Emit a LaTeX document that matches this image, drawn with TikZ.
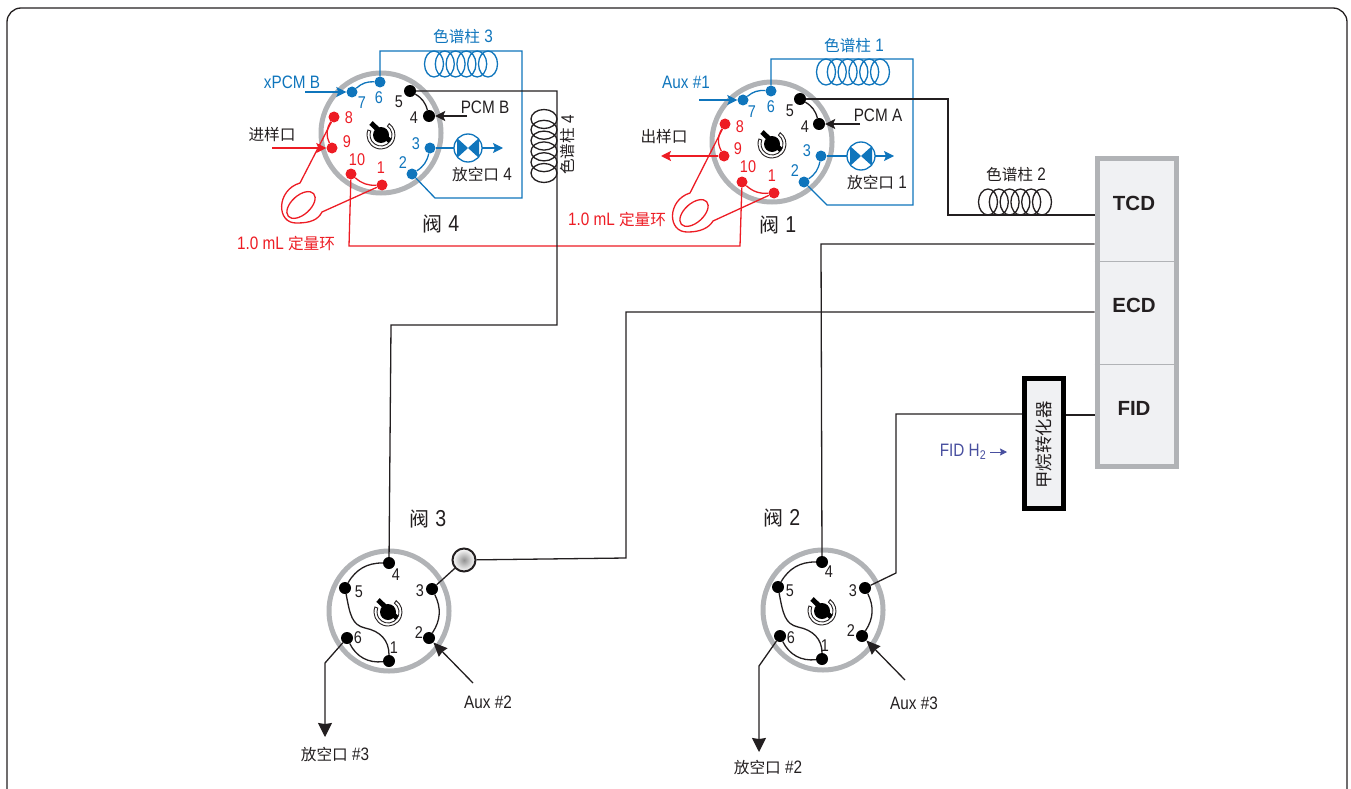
\documentclass[tikz,border=0pt]{standalone}
\usepackage{fontspec}
\setmainfont[FakeStretch=0.85]{Liberation Sans}
\newfontfamily\detfont{Liberation Sans}
\newfontfamily\cjfont[Scale=0.87]{Noto Sans CJK SC}
\usetikzlibrary{arrows.meta}
\newcommand{\cj}[1]{{\cjfont #1}}
\definecolor{vblue}{HTML}{0F75BC}
\definecolor{vred}{HTML}{ED1C24}
\definecolor{vgray}{HTML}{B1B3B6}
\definecolor{vpanel}{HTML}{F0F1F3}
\definecolor{vindigo}{HTML}{484F9F}
\definecolor{vblack}{HTML}{231F20}
\tikzset{
	ring/.style={circle, draw=vgray, line width=5pt, minimum size=120pt, inner sep=0pt},
	port/.style={circle, minimum size=11pt, inner sep=0pt},
	blueport/.style={port, fill=vblue},
	redport/.style={port, fill=vred},
	blackport/.style={port, fill=black, minimum size=12pt},
	bluewire/.style={draw=vblue, line width=1.3pt},
	redwire/.style={draw=vred, line width=1.3pt},
	blackwire/.style={draw=vblack, line width=1.3pt},
	smalltip/.style={-{Stealth[length=10pt, width=10pt, inset=2pt]}},
	auxtip/.style={-{Stealth[length=14pt, width=12pt, inset=1pt]}},
	bigtip/.style={-{Stealth[length=14pt, width=14pt, inset=1pt]}},
	lbl/.style={inner sep=0pt, text=vblack, font=\fontsize{18}{20}\selectfont},
	num/.style={inner sep=0pt, text=vblack, font=\fontsize{17}{19}\selectfont},
	bluelbl/.style={lbl, text=vblue},
	redlbl/.style={lbl, text=vred},
	bluenum/.style={num, text=vblue},
	rednum/.style={num, text=vred},
	valvelbl/.style={lbl, font=\fontsize{23}{25}\selectfont},
	detlbl/.style={inner sep=0pt, text=vblack, font=\detfont\bfseries\fontsize{20.5}{22}\selectfont},
	coil/.pic={
		\draw[pic actions] (0,0) circle [x radius=9.5pt, y radius=13pt]
		(10.8,0) circle [x radius=9.5pt, y radius=13pt]
		(21.6,0) circle [x radius=9.5pt, y radius=13pt]
		(32.4,0) circle [x radius=9.5pt, y radius=13pt]
		(43.2,0) circle [x radius=9.5pt, y radius=13pt]
		(54,0) circle [x radius=9.5pt, y radius=13pt];
	},
	dial/.pic={
		\draw[vblack, line width=0.9pt, y=1pt] (159:14) arc [start angle=159, end angle=414, radius=14pt]
		-- (54:11) arc [start angle=414, end angle=159, radius=11pt] -- cycle;
		\fill[black, y=1pt] (0,0) circle [radius=8pt];
		\draw[black, line width=5pt, y=1pt] (-10,12) -- (9,-6);
	},
	vent/.pic={
		\draw[vblue, line width=1.3pt, fill=white] (0,0) circle [radius=14pt];
		\fill[vblue] (0,0) -- (-11,-10) -- (-11,10) -- cycle;
		\fill[vblue] (0,0) -- (11,-10) -- (11,10) -- cycle;
	}
}

\begin{document}
\begin{tikzpicture}[x=1pt, y=-1pt]
	\useasboundingbox (0,0) rectangle (1351,789);
	\draw[vblack, line width=1.3pt, rounded corners=14pt]
	(7,789) -- (7,8) -- (1347,8) -- (1347,789);

	% valve 4
	\node[ring] (v4) at (381,133) {};
	\pic at (381,135) {dial};
	\node[blueport] (v4p6) at (380,82) {};
	\node[blueport] (v4p7) at (352,92) {};
	\node[blackport] (v4p5) at (410,91) {};
	\node[blackport] (v4p4) at (429,116) {};
	\node[blueport] (v4p3) at (430,148) {};
	\node[blueport] (v4p2) at (412,174) {};
	\node[redport] (v4p1) at (382,185) {};
	\node[redport] (v4p10) at (351,174) {};
	\node[redport] (v4p9) at (332,148) {};
	\node[redport] (v4p8) at (334,117) {};
	\node[bluenum] (n47) at (362,103) {7};
	\node[bluenum] (n46) at (379,98) {6};
	\node[num] (n45) at (399,102) {5};
	\node[num] (n44) at (414,118) {4};
	\node[bluenum] (n43) at (416,144) {3};
	\node[bluenum] (n42) at (403,163) {2};
	\node[rednum] (n41) at (381,168) {1};
	\node[rednum] (n410) at (357,160) {10};
	\node[rednum] (n49) at (347,142) {9};
	\node[rednum] (n48) at (349,118) {8};
	\draw[bluewire] (v4p6) to[bend right=22] (v4p7);
	\draw[bluewire] (v4p3) to[bend left=22] (v4p2);
	\draw[blackwire] (v4p5) to[bend left=22] (v4p4);
	\draw[redwire] (v4p8) to[bend right=30] (v4p9);
	\draw[redwire] (v4p10) to[bend right=22] (v4p1);
	\draw[redwire] (v4p8) -- (300,183) .. controls (276,190) and (276,224) .. (297,223)
	.. controls (310,223) and (318,220) .. (322,212) -- (v4p1);
	\draw[redwire, shift={(301,205)}, rotate=42] (0,0) circle [x radius=17pt, y radius=9.5pt];
	\coordinate (v4in) at (272,148);
	\draw[redwire, smalltip] (v4in) -- (v4p9);
	\coordinate (v4aux) at (305,92);
	\draw[bluewire, smalltip] (v4aux) -- (v4p7);
	\coordinate (v4pcm) at (467,116);
	\draw[blackwire, smalltip] (v4pcm) -- (v4p4);
	\coordinate (v4out) at (503,148);
	\draw[bluewire, smalltip] (v4p3) -- (v4out);
	\pic at (468,148) {vent};
	\draw[bluewire] (v4p6) -- (380,51) -- (522,51) -- (522,198) -- (435,198) -- (v4p2);
	\pic[bluewire] (col3) at (434,64) {coil};
	\node[bluelbl] (lbcol3) at (463,37) {\cj{色谱柱} 3};
	\node[bluelbl] (lbxpcm) at (292,82) {xPCM B};
	\node[lbl] (lbpcmb) at (485,107) {PCM B};
	\node[lbl] (lbin) at (272,135) {\cj{进样口}};
	\node[lbl] (lbvent4) at (482,175) {\cj{放空口} 4};
	\node[valvelbl] (lbv4) at (441,224) {\cj{阀} 4};
	\node[redlbl] (lbloop4) at (286,244) {1.0 mL \cj{定量环}};

	% valve 1
	\node[ring] (v1) at (772,142) {};
	\pic at (772,144) {dial};
	\node[blueport] (v1p6) at (771,91) {};
	\node[blueport] (v1p7) at (743,100) {};
	\node[blackport] (v1p5) at (800,99) {};
	\node[blackport] (v1p4) at (819,124) {};
	\node[blueport] (v1p3) at (821,156) {};
	\node[blueport] (v1p2) at (804,182) {};
	\node[redport] (v1p1) at (774,193) {};
	\node[redport] (v1p10) at (742,182) {};
	\node[redport] (v1p9) at (724,156) {};
	\node[redport] (v1p8) at (725,124) {};
	\node[bluenum] (n17) at (752,112) {7};
	\node[bluenum] (n16) at (771,107) {6};
	\node[num] (n15) at (790,111) {5};
	\node[num] (n14) at (805,127) {4};
	\node[bluenum] (n13) at (807,151) {3};
	\node[bluenum] (n12) at (795,171) {2};
	\node[rednum] (n11) at (772,176) {1};
	\node[rednum] (n110) at (748,167) {10};
	\node[rednum] (n19) at (738,149) {9};
	\node[rednum] (n18) at (740,127) {8};
	\draw[bluewire] (v1p6) to[bend right=22] (v1p7);
	\draw[bluewire] (v1p3) to[bend left=22] (v1p2);
	\draw[blackwire] (v1p5) to[bend left=22] (v1p4);
	\draw[redwire] (v1p8) to[bend right=30] (v1p9);
	\draw[redwire] (v1p10) to[bend right=22] (v1p1);
	\draw[redwire] (v1p8) -- (690,193) .. controls (667,200) and (667,233) .. (688,232)
	.. controls (700,232) and (709,228) .. (713,221) -- (v1p1);
	\draw[redwire, shift={(694,213)}, rotate=42] (0,0) circle [x radius=17pt, y radius=9.5pt];
	\coordinate (v1tap) at (661,156);
	\draw[redwire, smalltip] (v1p9) -- (v1tap);
	\coordinate (v1aux) at (699,100);
	\draw[bluewire, smalltip] (v1aux) -- (v1p7);
	\coordinate (v1pcm) at (860,124);
	\draw[blackwire, smalltip] (v1pcm) -- (v1p4);
	\coordinate (v1out) at (894,156);
	\draw[bluewire, smalltip] (v1p3) -- (v1out);
	\pic at (861,156) {vent};
	\draw[bluewire] (v1p6) -- (771,59) -- (913,59) -- (913,205) -- (827,205) -- (v1p2);
	\pic[bluewire] (col1) at (826,72) {coil};
	\node[bluelbl] (lbcol1) at (854,46) {\cj{色谱柱} 1};
	\node[bluelbl] (lbaux1) at (686,82) {Aux \#1};
	\node[lbl] (lbpcma) at (878,115) {PCM A};
	\node[lbl] (lbtap) at (664,137) {\cj{出样口}};
	\node[lbl] (lbvent1) at (877,183) {\cj{放空口} 1};
	\node[valvelbl] (lbv1) at (778,225) {\cj{阀} 1};
	\node[redlbl] (lbloop1) at (617,220) {1.0 mL \cj{定量环}};

	% valve 3
	\node[ring] (v3) at (389,611) {};
	\pic at (388,612) {dial};
	\node[blackport] (v3p4) at (389,563) {};
	\node[blackport] (v3p5) at (345,588) {};
	\node[blackport] (v3p6) at (347,638) {};
	\node[blackport] (v3p1) at (389,661) {};
	\node[blackport] (v3p2) at (429,638) {};
	\node[blackport] (v3p3) at (432,589) {};
	\node[num] (n34) at (396,575) {4};
	\node[num] (n35) at (359,592) {5};
	\node[num] (n36) at (358,638) {6};
	\node[num] (n31) at (394,648) {1};
	\node[num] (n32) at (419,633) {2};
	\node[num] (n33) at (420,591) {3};
	\draw[blackwire] (v3p4) to[bend right=30] (v3p5);
	\draw[blackwire] (v3p3) to[bend left=30] (v3p2);
	\draw[blackwire] (v3p6) to[bend right=35] (v3p1);
	\draw[blackwire] (v3p5) .. controls (350,615) and (352,625) .. (365,628)
	.. controls (380,631) and (389,640) .. (v3p1);
	\node[circle, draw=vblack, line width=2pt, minimum size=23pt, inner sep=0pt,
	inner color=gray!85, outer color=white] (v3gauge) at (464,560) {};
	\draw[blackwire] (v3p3) -- (v3gauge);
	\coordinate (v3vent) at (325,737);
	\draw[blackwire, bigtip] (v3p6) -- (325,663) -- (v3vent);
	\coordinate (v3aux) at (473,683);
	\draw[blackwire, auxtip] (v3aux) -- (v3p2);
	\node[lbl] (lbaux2) at (488,702) {Aux \#2};
	\node[lbl] (lbvent3) at (335,755) {\cj{放空口} \#3};
	\node[valvelbl] (lbv3) at (428,519) {\cj{阀} 3};

	% valve 2
	\node[ring] (v2) at (823,610) {};
	\pic at (822,611) {dial};
	\node[blackport] (v2p4) at (822,562) {};
	\node[blackport] (v2p5) at (778,587) {};
	\node[blackport] (v2p6) at (780,636) {};
	\node[blackport] (v2p1) at (822,659) {};
	\node[blackport] (v2p2) at (862,636) {};
	\node[blackport] (v2p3) at (865,588) {};
	\node[num] (n24) at (829,572) {4};
	\node[num] (n25) at (790,591) {5};
	\node[num] (n26) at (791,638) {6};
	\node[num] (n21) at (825,646) {1};
	\node[num] (n22) at (851,631) {2};
	\node[num] (n23) at (853,591) {3};
	\draw[blackwire] (v2p4) to[bend right=30] (v2p5);
	\draw[blackwire] (v2p3) to[bend left=30] (v2p2);
	\draw[blackwire] (v2p6) to[bend right=35] (v2p1);
	\draw[blackwire] (v2p5) .. controls (783,614) and (785,624) .. (798,627)
	.. controls (813,630) and (822,639) .. (v2p1);
	\coordinate (v2vent) at (759,752);
	\draw[blackwire, bigtip] (v2p6) -- (759,666) -- (v2vent);
	\coordinate (v2aux) at (905,680);
	\draw[blackwire, auxtip] (v2aux) -- (v2p2);
	\node[lbl] (lbaux3) at (914,703) {Aux \#3};
	\node[lbl] (lbvent2) at (768,768) {\cj{放空口} \#2};
	\node[valvelbl] (lbv2) at (782,518) {\cj{阀} 2};

	% detectors
	\node[draw=vgray, line width=5pt, fill=vpanel, minimum width=79pt, minimum height=308pt,
	inner sep=0pt] (det) at (1136.5,312) {};
	\draw[vgray, line width=1pt] (det.west |- 0,261) -- (det.east |- 0,261);
	\draw[vgray, line width=1pt] (det.west |- 0,364) -- (det.east |- 0,364);
	\node[detlbl] (tcd) at (1134,203) {TCD};
	\node[detlbl] (ecd) at (1134,305) {ECD};
	\node[detlbl] (fid) at (1134,408) {FID};
	\node[draw=black, line width=5pt, fill=vpanel, minimum width=39pt, minimum height=130pt,
	inner sep=0pt] (conv) at (1044,443.5) {};
	\node[lbl, rotate=90, font=\fontsize{20}{22}\selectfont] (lbconv) at (1044,445) {\cj{甲烷转化器}};
	\coordinate (h2in) at (1007,452);
	\coordinate (h2out) at (990,452);
	\draw[vindigo, line width=1pt, -{Stealth[length=7pt, width=7pt, inset=1pt]}] (h2out) -- (h2in);
	\node[lbl, text=vindigo] (lbh2) at (963,452) {FID H\textsubscript{2}};

	% long lines
	\draw[redwire] (v4p10) -- (349,246) -- (740,246) -- (v1p10);
	\draw[blackwire] (v4p5) -- (557,91) -- (557,325) -- (391,325) -- (v3p4);
	\pic[blackwire, rotate=90] (col4) at (544,173) {coil};
	\node[lbl, rotate=90] (lbcol4) at (568,145) {\cj{色谱柱} 4};
	\draw[blackwire] (v1p5) -- (948,99) -- (948,215) -- (det.west |- 0,215);
	\pic[blackwire] (col2) at (988,202) {coil};
	\node[lbl] (lbcol2) at (1016,175) {\cj{色谱柱} 2};
	\draw[blackwire] (v2p4) -- (821,244) -- (det.west |- 0,244);
	\draw[blackwire] (v3gauge) -- (626,558) -- (626,312) -- (det.west |- 0,312);
	\draw[blackwire] (v2p3) -- (896,573) -- (896,414) -- (conv.west |- 0,414);
	\draw[blackwire] (conv.east |- 0,415) -- (det.west |- 0,415);
\end{tikzpicture}
\end{document}
